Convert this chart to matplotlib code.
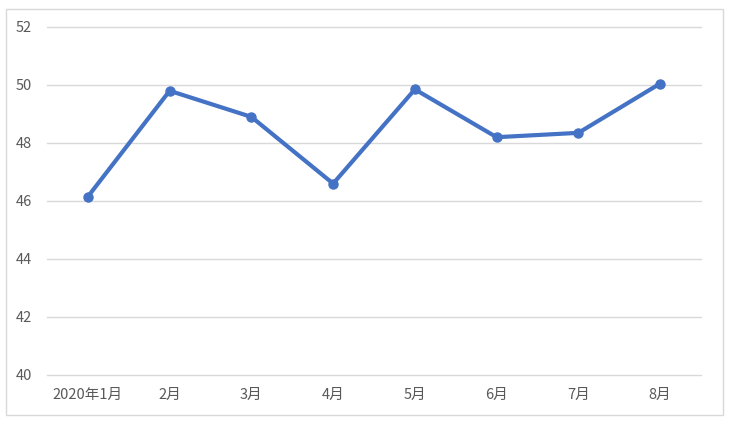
import matplotlib
matplotlib.use("Agg")
import matplotlib.pyplot as plt
from matplotlib.patches import Rectangle

plt.rcParams['font.family'] = ['Noto Sans CJK SC', 'DejaVu Sans']

categories = ["2020年1月", "2月", "3月", "4月", "5月", "6月", "7月", "8月"]
values = [46.15, 49.8, 48.9, 46.6, 49.85, 48.2, 48.35, 50.05]
yticks = [40, 42, 44, 46, 48, 50, 52]

fig = plt.figure(figsize=(7.36, 4.26), dpi=100)
fig.patch.set_facecolor("white")
fig.patches.append(Rectangle((6/736, 1 - 415/426), 717/736, 406/426,
                             transform=fig.transFigure, fill=False,
                             edgecolor="#D9D9D9", linewidth=1))

ax = fig.add_axes([47/736, 1 - 375/426, 654/736, 348/426])
x = list(range(len(categories)))
ax.plot(x, values, color="#4472C4", linewidth=3, marker="o", markersize=6.5,
        solid_capstyle="round", solid_joinstyle="round", zorder=3)

ax.set_xlim(-0.5, len(categories) - 0.5)
ax.set_ylim(40, 52)
ax.set_yticks(yticks)
ax.set_yticklabels([str(t) for t in yticks])
ax.set_xticks(x)
ax.set_xticklabels(categories)
ax.grid(axis="y", color="#D9D9D9", linewidth=1)
for gl in ax.get_ygridlines():
    gl.set_clip_on(False)
ax.set_axisbelow(True)
for s in ax.spines.values():
    s.set_visible(False)
ax.tick_params(axis="both", length=0, colors="#595959", labelsize=10.5)
ax.tick_params(axis="y", pad=11)
ax.tick_params(axis="x", pad=9)

fig.savefig("out.png", dpi=100, facecolor="white")
